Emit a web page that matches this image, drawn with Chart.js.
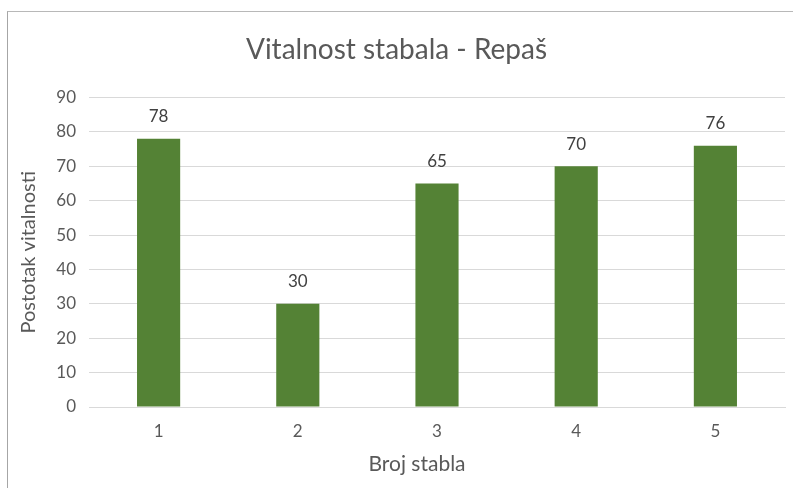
<!DOCTYPE html>
<html>
<head>
    <meta charset="utf-8">
    <title>Vitalnost stabala - Repaš</title>
    <script src="https://cdn.jsdelivr.net/npm/chart.js"></script>
    <style>
        body { margin: 0; background: #fff; }
        #frame {
            position: absolute; left: 7px; top: 11px;
            width: 786px; height: 477px;
            border-top: 1px solid #b8b8b8; border-left: 1px solid #a6a6a6;
        }
    </style>
</head>
<body>
    <div id="frame">
        <canvas id="barChart" width="785" height="476"></canvas>
    </div>

    <script>
        // chart data
        const treeNumbers = ['1', '2', '3', '4', '5'];
        const vitality = [78, 30, 65, 70, 76];
        const yTicks = [0, 10, 20, 30, 40, 50, 60, 70, 80, 90];
        const xTitle = 'Broj stabla';

        const textColor = '#595959';
        const gridColor = '#d9d9d9';
        const fontName = 'Lato, "Liberation Sans", sans-serif';

        // value labels above each bar, plus the x axis title (sits a bit left of centre)
        const barLabels = {
            id: 'barLabels',
            afterDatasetsDraw(chart) {
                const ctx = chart.ctx;
                const meta = chart.getDatasetMeta(0);
                ctx.save();
                ctx.font = '17px ' + fontName;
                ctx.fillStyle = '#404040';
                ctx.textAlign = 'center';
                ctx.textBaseline = 'middle';
                meta.data.forEach((bar, i) => {
                    ctx.fillText(vitality[i], bar.x, bar.y - 22);
                });

                const area = chart.chartArea;
                ctx.font = '21px ' + fontName;
                ctx.fillStyle = textColor;
                ctx.fillText(xTitle, (area.left + area.right) / 2 - 20, chart.scales.x.bottom - 24);
                ctx.restore();
            }
        };

        const ctx = document.getElementById('barChart').getContext('2d');
        new Chart(ctx, {
            type: 'bar',
            data: {
                labels: treeNumbers,
                datasets: [{
                    label: 'Postotak vitalnosti',
                    data: vitality,
                    backgroundColor: '#548235',
                    borderWidth: 0,
                    barPercentage: 0.31,
                    categoryPercentage: 1
                }]
            },
            options: {
                responsive: false,
                animation: false,
                layout: { padding: { top: 0, right: 8, left: 0, bottom: 0 } },
                scales: {
                    x: {
                        grid: { display: false, drawTicks: false },
                        border: { display: true, color: gridColor },
                        ticks: { color: textColor, font: { family: fontName, size: 17 }, padding: 14 },
                        afterFit: scale => { scale.height = 81; }
                    },
                    y: {
                        min: 0,
                        max: 90,
                        afterBuildTicks: scale => { scale.ticks = yTicks.map(v => ({ value: v })); },
                        grid: { color: gridColor, drawTicks: false },
                        border: { display: false },
                        ticks: { color: textColor, font: { family: fontName, size: 17 }, padding: 13 },
                        title: {
                            display: true,
                            text: 'Postotak vitalnosti',
                            color: textColor,
                            font: { family: fontName, size: 20 },
                            padding: { top: 9, bottom: 0 }
                        },
                        afterFit: scale => { scale.width = 81; }
                    }
                },
                plugins: {
                    legend: { display: false },
                    tooltip: { enabled: false },
                    title: {
                        display: true,
                        text: 'Vitalnost stabala - Repaš',
                        color: textColor,
                        font: { family: fontName, size: 28, weight: 'normal' },
                        padding: { top: 21, bottom: 31 }
                    }
                }
            },
            plugins: [barLabels]
        });
    </script>
</body>
</html>
